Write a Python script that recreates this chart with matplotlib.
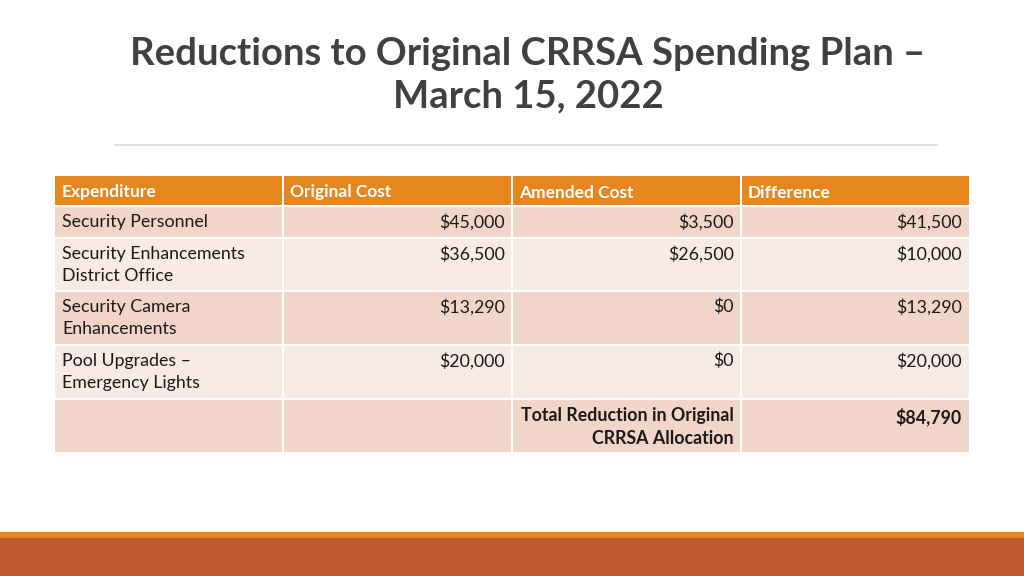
import matplotlib.pyplot as plt
from matplotlib.patches import Rectangle

plt.rcParams['font.family'] = ['Lato', 'DejaVu Sans']

title = "Reductions to Original CRRSA Spending Plan \u2013\nMarch 15, 2022"
headers = ["Expenditure", "Original Cost", "Amended Cost", "Difference"]
expenditures = ["Security Personnel", "Security Enhancements\nDistrict Office",
                "Security Camera\nEnhancements", "Pool Upgrades \u2013\nEmergency Lights"]
original_cost = [45000, 36500, 13290, 20000]
amended_cost = [3500, 26500, 0, 0]
difference = [41500, 10000, 13290, 20000]
total_label = "Total Reduction in Original\nCRRSA Allocation"
total_value = 84790

header_color = "#E5861F"
dark_row = "#F2D5C9"
light_row = "#F8EAE5"


def money(v):
    return "${:,}".format(v)


fig = plt.figure(figsize=(10.24, 5.76), dpi=100)
ax = fig.add_axes([0, 0, 1, 1])
ax.set_xlim(0, 1024)
ax.set_ylim(576, 0)
ax.axis('off')

# title and rule
ax.text(528, 75, title, ha='center', va='center', fontsize=27.5, fontweight='bold',
        color='#404040', linespacing=1.3)
ax.plot([115, 937], [145, 145], color='#D9D9D9', lw=1.2)

# table layout
col_x = [55, 283, 512, 741, 969]
row_y = [176, 206, 238, 291, 345, 399, 452]

ax.add_patch(Rectangle((col_x[0], row_y[0]), col_x[-1] - col_x[0], row_y[1] - row_y[0],
                       color=header_color, lw=0))
for j, h in enumerate(headers):
    ax.text(col_x[j] + 7, (row_y[0] + row_y[1]) / 2 + 1.5, h, ha='left', va='center',
            fontsize=12.5, fontweight='bold', color='white')

rows = []
for i in range(len(expenditures)):
    rows.append([expenditures[i], money(original_cost[i]), money(amended_cost[i]),
                 money(difference[i])])
rows.append(["", "", total_label, money(total_value)])

for i, row in enumerate(rows):
    top = row_y[i + 1]
    bot = row_y[i + 2]
    fc = dark_row if i % 2 == 0 else light_row
    ax.add_patch(Rectangle((col_x[0], top), col_x[-1] - col_x[0], bot - top, color=fc, lw=0))
    bold = i == len(rows) - 1
    for j, val in enumerate(row):
        if not val:
            continue
        if j == 0:
            ax.text(col_x[j] + 7, top + 8, val, ha='left', va='top', fontsize=12.8,
                    color='#1a1a1a', linespacing=1.45)
        else:
            ax.text(col_x[j + 1] - 7, top + 8, val, ha='right', va='top', fontsize=12.8,
                    color='#1a1a1a', fontweight='bold' if bold else 'normal',
                    linespacing=1.45, multialignment='right')

# white grid lines
for x in col_x[1:-1]:
    ax.plot([x, x], [row_y[0], row_y[-1]], color='white', lw=1.5)
for y in row_y[1:-1]:
    ax.plot([col_x[0], col_x[-1]], [y, y], color='white', lw=1.5)

# bottom bars
ax.add_patch(Rectangle((0, 532), 1024, 6, color=header_color, lw=0))
ax.add_patch(Rectangle((0, 538), 1024, 38, color='#BD582C', lw=0))

fig.savefig("out.png", dpi=100)
